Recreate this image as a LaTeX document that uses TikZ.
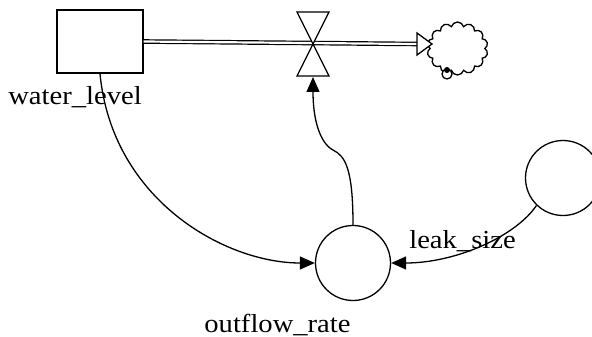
\documentclass[tikz,border=0pt]{standalone}
\usepackage{fontspec}
\setmainfont{Liberation Serif}
\usetikzlibrary{arrows.meta,shapes.symbols}
\begin{document}
\begin{tikzpicture}[x=1pt,y=-1pt, line width=1.3pt,
  lbl/.style={font=\fontsize{26}{30}\selectfont, inner sep=0pt, anchor=base, xscale=1.1},
  aux/.style={circle, draw, fill=white, minimum size=75pt, inner sep=0pt},
  link/.style={-{Triangle[length=15pt,width=13pt]}},
  pipe/.style={double, double distance=2.2pt, line width=1.2pt},
]
\useasboundingbox (0,0) rectangle (592,337);
% stock
\node[draw, fill=white, minimum width=86pt, minimum height=63pt, inner sep=0pt] (stock) at (100,41.5) {};
\node[lbl] (stocklbl) at (75,105) {water\_level};
% cloud
\node[cloud, draw, cloud puffs=14, aspect=1.2, minimum width=61pt, minimum height=53pt, inner sep=0pt] (cloud) at (457.5,48.5) {};
\draw[fill=white] (447,74) circle (5);
\fill (447,70) circle (3);
% pipe
\coordinate (pipeend) at (417,44);
\draw[pipe] (stock.east) -- (pipeend);
\draw[fill=white] (pipeend) ++(0,-11) -- ++(15,11) -- ++(-15,11) -- cycle;
% valve
\coordinate (valve) at (313,44);
\coordinate (valvebot) at (313,77);
\draw[fill=white] (297,12) -- (329,12) -- (valve) -- cycle;
\draw[fill=white] (valve) -- (329,76) -- (297,76) -- cycle;
% auxiliaries
\node[aux] (outflow) at (353,263) {};
\node[lbl] (outflowlbl) at (277.5,332) {outflow\_rate};
\node[aux] (leak) at (563,178) {};
\node[lbl] (leaklbl) at (462.5,248) {leak\_size};
% links
\coordinate (bend) at (333,150);
\draw[link] (stock.south) .. controls (112,200) and (225,263) .. (outflow.west);
\draw[link] (leak.226) .. controls (515,237) and (455,263) .. (outflow.east);
\draw[link] (outflow.north) .. controls (353,168) and (345,156) .. (bend) .. controls (320,143) and (313,120) .. (valvebot);
\end{tikzpicture}
\end{document}
